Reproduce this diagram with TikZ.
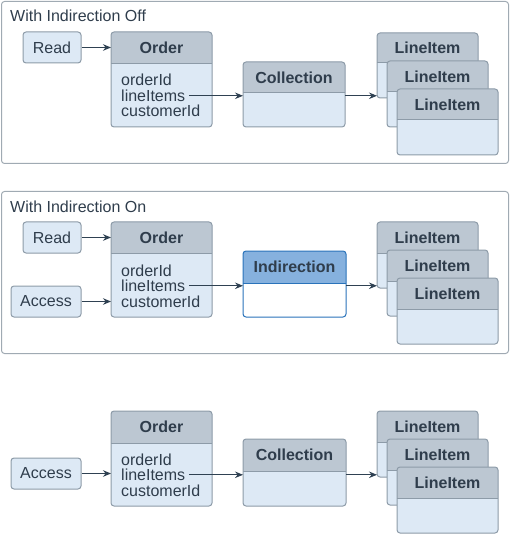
\documentclass[tikz,border=0pt]{standalone}
\usepackage{fontspec}
\setmainfont{Liberation Sans}
\usetikzlibrary{arrows.meta,calc}
\definecolor{hdfill}{HTML}{BCC7D2}
\definecolor{bdfill}{HTML}{DDE9F5}
\definecolor{bdline}{HTML}{8D9BA8}
\definecolor{txt}{HTML}{2F3D4C}
\definecolor{arrcol}{HTML}{2F4152}
\definecolor{ihead}{HTML}{86B1DE}
\definecolor{iline}{HTML}{2A73BA}
\definecolor{frcol}{HTML}{A0AAB3}
\tikzset{
  x=1pt, y=-1pt,
  fnt/.style={font=\fontsize{16pt}{16pt}\selectfont, text=txt},
  headtext/.style={fnt, font=\fontsize{16pt}{16pt}\selectfont\bfseries, inner sep=0pt},
  bodytext/.style={fnt, inner sep=0pt, anchor=base west},
  titletext/.style={fnt, inner sep=0pt, anchor=base west},
  smallbox/.style={fnt, draw=bdline, fill=bdfill, line width=1pt, rounded corners=3pt, inner sep=0pt},
  frame/.style={draw=frcol, line width=1pt, rounded corners=3pt, inner sep=0pt, anchor=north west},
  arr/.style={draw=arrcol, line width=1pt, -{Stealth[length=8pt,width=6.5pt]}},
  greyhead/.style={fill=hdfill}, greybody/.style={fill=bdfill}, greyline/.style={draw=bdline, line width=1pt},
  bluehead/.style={fill=ihead}, bluebody/.style={fill=white}, blueline/.style={draw=iline, line width=1pt},
}
% #1 name, #2 x, #3 top, #4 w, #5 h, #6 header height, #7 title, #8 kind
\newcommand\ClassBox[8]{%
  \node[inner sep=0pt, outer sep=0pt, minimum width=#4pt, minimum height=#5pt, anchor=north west] (#1) at (#2,#3) {};
  \fill[#8body, rounded corners=3pt] (#1.north west) rectangle (#1.south east);
  \begin{scope}
    \clip (#2,#3) rectangle ({#2+#4},{#3+#6});
    \fill[#8head, rounded corners=3pt] (#1.north west) rectangle (#1.south east);
  \end{scope}
  \draw[#8line] (#2,{#3+#6}) -- ({#2+#4},{#3+#6});
  \draw[#8line, rounded corners=3pt] (#1.north west) rectangle (#1.south east);
  \node[headtext] (#1-t) at ({#2+#4/2},{#3+#6/2}) {#7};
}
\begin{document}
\begin{tikzpicture}
\useasboundingbox (0,0) rectangle (509,534);
% ---------- Panel 1 ----------
\node[frame, minimum width=507pt, minimum height=162pt] (fa) at (1,1) {};
\node[titletext] (ta) at (10,22) {With Indirection Off};
\node[smallbox, minimum width=58pt, minimum height=31pt] (a-read) at (52,47.5) {Read};
\ClassBox{a-order}{111}{32}{101}{95}{32}{Order}{grey}
\node[bodytext] (a-oid) at (121,86) {orderId};
\node[bodytext] (a-li) at (121,101.5) {lineItems};
\node[bodytext] (a-cid) at (121,117) {customerId};
\ClassBox{a-coll}{243}{62}{102}{65}{31}{Collection}{grey}
\ClassBox{a-l1}{377}{33}{101}{65}{30}{LineItem}{grey}
\ClassBox{a-l2}{387}{61}{101}{66}{31}{LineItem}{grey}
\ClassBox{a-l3}{397}{89}{101}{66}{31}{LineItem}{grey}
\draw[arr] (a-read.east) -- (a-read.east -| a-order.west);
\draw[arr] ([xshift=3.5pt]a-li.east) -- (a-li.east -| a-coll.west);
\draw[arr] (a-li.east -| a-coll.east) -- (a-li.east -| a-l1.west);
% ---------- Panel 2 ----------
\node[frame, minimum width=507pt, minimum height=162pt] (fb) at (1,191) {};
\node[titletext] (tb) at (10,212) {With Indirection On};
\node[smallbox, minimum width=58pt, minimum height=31pt] (b-read) at (52,237.5) {Read};
\node[smallbox, minimum width=70pt, minimum height=31pt] (b-acc) at (46,301.5) {Access};
\ClassBox{b-order}{111}{222}{101}{95}{31}{Order}{grey}
\node[bodytext] (b-oid) at (121,276) {orderId};
\node[bodytext] (b-li) at (121,291.5) {lineItems};
\node[bodytext] (b-cid) at (121,307) {customerId};
\ClassBox{b-ind}{243}{251}{103}{66}{32}{Indirection}{blue}
\ClassBox{b-l1}{377}{222}{101}{66}{31}{LineItem}{grey}
\ClassBox{b-l2}{387}{250}{101}{66}{31}{LineItem}{grey}
\ClassBox{b-l3}{397}{278}{101}{66}{31}{LineItem}{grey}
\draw[arr] (b-read.east) -- (b-read.east -| b-order.west);
\draw[arr] (b-acc.east) -- (b-acc.east -| b-order.west);
\draw[arr] ([xshift=3.5pt]b-li.east) -- (b-li.east -| b-ind.west);
\draw[arr] (b-li.east -| b-ind.east) -- (b-li.east -| b-l1.west);
% ---------- Panel 3 ----------
\node[smallbox, minimum width=70pt, minimum height=31pt] (c-acc) at (46,473.5) {Access};
\ClassBox{c-order}{111}{411}{101}{95}{32}{Order}{grey}
\node[bodytext] (c-oid) at (121,465) {orderId};
\node[bodytext] (c-li) at (121,480.5) {lineItems};
\node[bodytext] (c-cid) at (121,496) {customerId};
\ClassBox{c-coll}{243}{439}{103}{67}{32}{Collection}{grey}
\ClassBox{c-l1}{377}{411}{101}{66}{31}{LineItem}{grey}
\ClassBox{c-l2}{387}{439}{101}{66}{31}{LineItem}{grey}
\ClassBox{c-l3}{397}{467}{101}{66}{31}{LineItem}{grey}
\draw[arr] (c-acc.east) -- (c-acc.east -| c-order.west);
\draw[arr] ([xshift=3.5pt]c-li.east) -- (c-li.east -| c-coll.west);
\draw[arr] (c-li.east -| c-coll.east) -- (c-li.east -| c-l1.west);
\end{tikzpicture}
\end{document}
